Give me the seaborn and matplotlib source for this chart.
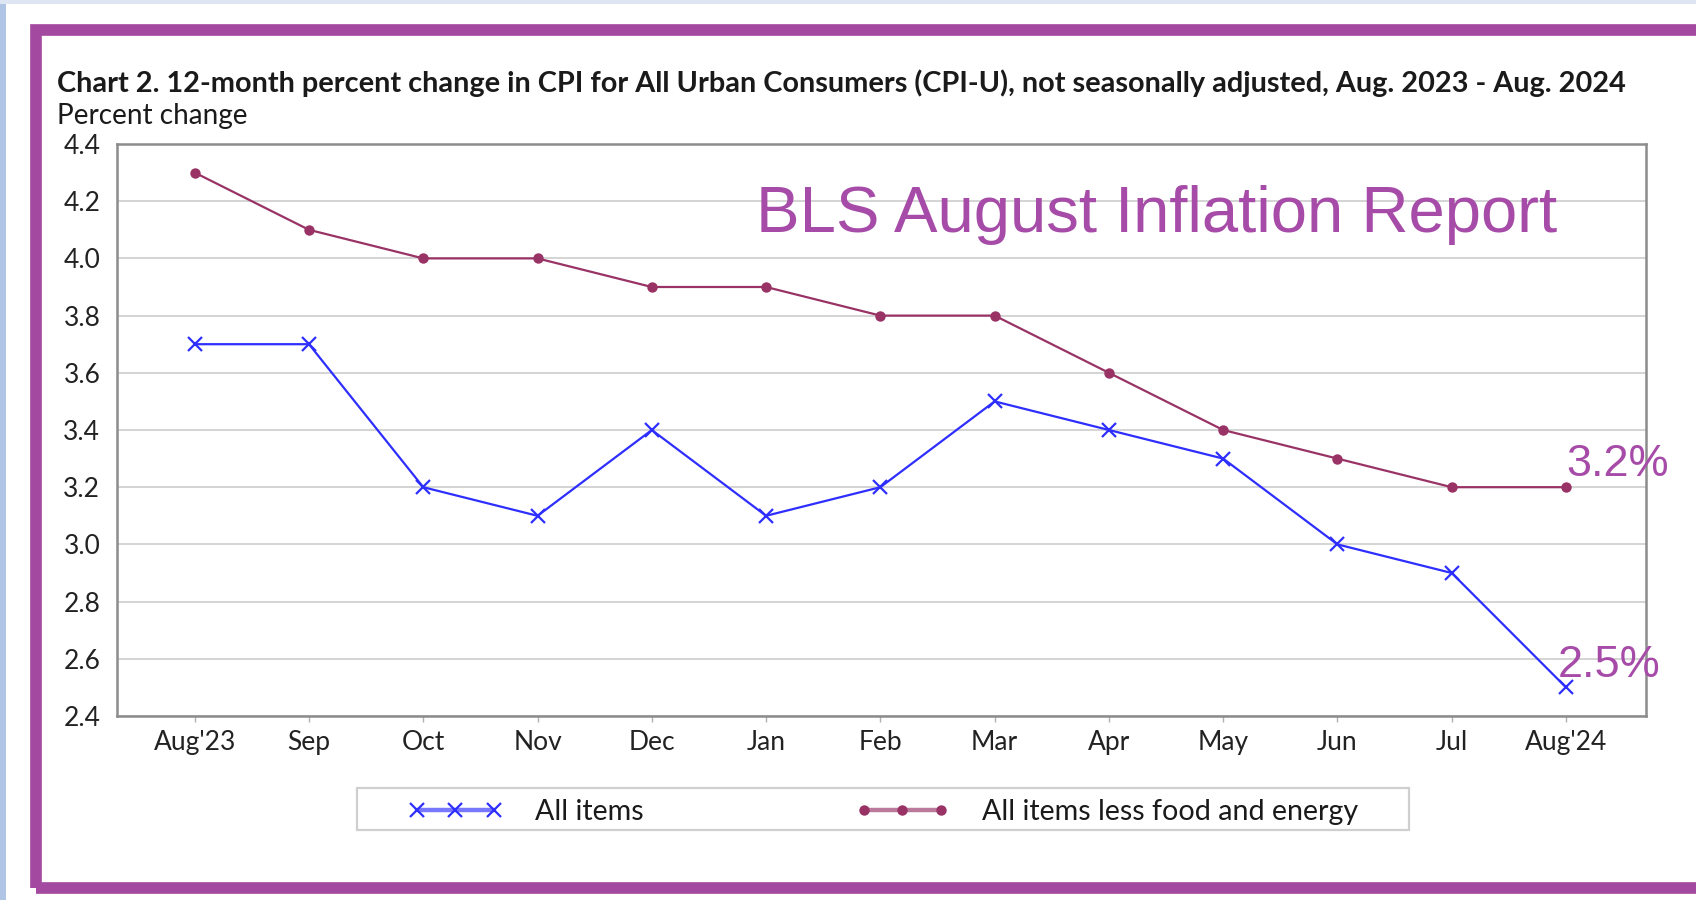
import matplotlib
matplotlib.use("Agg")
import matplotlib.pyplot as plt
import matplotlib.patches as mpatches
import seaborn as sns
import pandas as pd

months = ["Aug'23", "Sep", "Oct", "Nov", "Dec", "Jan", "Feb", "Mar", "Apr", "May", "Jun", "Jul", "Aug'24"]
all_items = [3.7, 3.7, 3.2, 3.1, 3.4, 3.1, 3.2, 3.5, 3.4, 3.3, 3.0, 2.9, 2.5]
core_items = [4.3, 4.1, 4.0, 4.0, 3.9, 3.9, 3.8, 3.8, 3.6, 3.4, 3.3, 3.2, 3.2]
series_names = ["All items", "All items less food and energy"]
y_ticks = [2.4, 2.6, 2.8, 3.0, 3.2, 3.4, 3.6, 3.8, 4.0, 4.2, 4.4]

sns.set_theme(style="white")
plt.rcParams['font.family'] = ['Lato', 'DejaVu Sans']

W, H = 1696, 900
fig = plt.figure(figsize=(W / 100, H / 100), dpi=100)
fig.patch.set_facecolor("white")

# background decorations
fig.patches.append(mpatches.Rectangle((0, 0), 6 / W, 1, transform=fig.transFigure,
                                      facecolor="#b0c4e6", edgecolor="none", zorder=0))
fig.patches.append(mpatches.Rectangle((0, 1 - 3.5 / H), 1, 3.5 / H, transform=fig.transFigure,
                                      facecolor="#dde6f2", edgecolor="none", zorder=0))
# purple frame (right side runs off the image)
frame_col = "#a349a0"
fl, fr, ft, fb = 35.5 / W, 1699 / W, 1 - 30 / H, 1 - 887.5 / H
fig.patches.append(mpatches.Rectangle((fl, fb), fr - fl, ft - fb, transform=fig.transFigure,
                                      facecolor="none", edgecolor=frame_col, linewidth=8.4, zorder=1))

ax = fig.add_axes([117 / W, 1 - 716 / H, (1646 - 117) / W, (716 - 144) / H])

x = list(range(len(months)))
df = pd.DataFrame({
    "x": x + x,
    "value": all_items + core_items,
    "series": [series_names[0]] * len(x) + [series_names[1]] * len(x),
})

blue = "#2e2eff"
maroon = "#993366"
sns.lineplot(data=df[df.series == series_names[0]], x="x", y="value", ax=ax, color=blue,
             marker="x", markersize=10, markeredgewidth=1.6, markeredgecolor=blue,
             linewidth=1.6, label=series_names[0], sort=False)
sns.lineplot(data=df[df.series == series_names[1]], x="x", y="value", ax=ax, color=maroon,
             marker="o", markersize=7.5, markeredgewidth=0, markeredgecolor=maroon,
             linewidth=1.6, label=series_names[1], sort=False)

ax.set_xlim(-0.68, 12.7)
ax.set_ylim(2.4, 4.4)
ax.set_yticks(y_ticks)
ax.set_yticklabels([f"{v:.1f}" for v in y_ticks], fontsize=19, color="#222222")
ax.set_xticks(x)
ax.set_xticklabels(months, fontsize=19, color="#222222")
ax.tick_params(axis="x", bottom=True, length=4, width=1, color="#b0b0b0", pad=6)
ax.tick_params(axis="y", left=False, pad=6)
ax.set_xlabel("")
ax.set_ylabel("")
ax.grid(axis="y", color="#d4d4d4", linewidth=1.4)
ax.set_axisbelow(True)
for s in ax.spines.values():
    s.set_color("#8c8c8c")
    s.set_linewidth(1.8)

# title and subtitle
fig.text(57 / W, 1 - 83 / H,
         "Chart 2. 12-month percent change in CPI for All Urban Consumers (CPI-U), not seasonally adjusted, Aug. 2023 - Aug. 2024",
         fontsize=20.8, fontweight="bold", color="#1a1a1a", va="center", ha="left")
fig.text(57 / W, 1 - 116 / H, "Percent change", fontsize=20.2, color="#1a1a1a",
         va="center", ha="left")

purple = "#a64ca8"
fig.text(1157 / W, 1 - 215 / H, "BLS August Inflation Report", fontsize=47,
         family=["Liberation Sans", "DejaVu Sans"], color=purple, ha="center", va="center")
ax.annotate("3.2%", xy=(12, core_items[-1]), xytext=(0, 16), textcoords="offset points",
            fontsize=32.5, family=["Liberation Sans", "DejaVu Sans"], color=purple,
            ha="left", va="center", annotation_clip=False)
ax.annotate("2.5%", xy=(12, all_items[-1]), xytext=(-6, 16), textcoords="offset points",
            fontsize=32.5, family=["Liberation Sans", "DejaVu Sans"], color=purple,
            ha="left", va="center", annotation_clip=False)

# legend
ax.legend_.remove()
handles, labels = ax.get_legend_handles_labels()
fig.patches.append(mpatches.Rectangle((357 / W, 1 - 830 / H), (1409 - 357) / W, 42 / H,
                                      transform=fig.transFigure, facecolor="white",
                                      edgecolor="#cfcfcf", linewidth=1.6, zorder=2))
leg = fig.legend(handles, labels, loc="center", bbox_to_anchor=(883 / W, 1 - 812 / H),
                 ncol=2, fontsize=20.6, numpoints=3, handlelength=3.3, columnspacing=7.4,
                 handletextpad=1.13, borderpad=0.2, frameon=False, borderaxespad=0)
leg.set_zorder(3)
for t in leg.get_texts():
    t.set_color("#1a1a1a")
light = ["#7878ff", "#bb7a9c"]
for lh, lc in zip(leg.legend_handles, light):
    mc = lh.get_markeredgecolor()
    mfc = lh.get_markerfacecolor()
    lh.set_color(lc)
    lh.set_linewidth(3.2)
    lh.set_markeredgecolor(mc)
    lh.set_markerfacecolor(mfc)

fig.savefig("out.png", dpi=100, facecolor="white")
